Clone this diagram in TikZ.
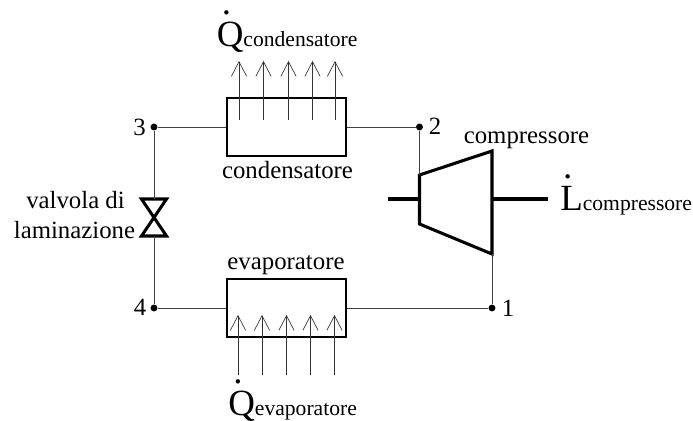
\documentclass[tikz,border=0pt]{standalone}
\usepackage{fontspec}
\usepackage{graphicx}
\setmainfont{Liberation Serif}
\usetikzlibrary{arrows.meta}
\newsavebox{\symbox}
\newcommand{\hidot}[1]{\leavevmode\sbox{\symbox}{#1}\rlap{\hbox to \wd\symbox{\hss\raisebox{0.84em}{.}\kern.2em\hss}}\usebox{\symbox}}
\newcommand{\bigsym}[2]{{\fontsize{27.7pt}{30pt}\selectfont\hidot{#1}}{\fontsize{16.2pt}{18pt}\selectfont #2}}
\tikzset{
  thinline/.style={line width=.75pt,draw=black!75},
  flow/.style={line width=.7pt,draw=black!80,-{Straight Barb[length=11pt,width=11.5pt,line width=.5pt]}},
  heavy/.style={line width=2.3pt,draw=black,line join=miter},
  shaft/.style={line width=3pt,draw=black},
  hx/.style={rectangle,draw=black,line width=2.2pt,minimum width=119*.75pt,minimum height=58*.75pt,inner sep=0pt},
  junction/.style={circle,fill=black,draw=none,minimum size=5.2pt,inner sep=0pt},
  lab/.style={anchor=base,inner sep=0pt,font=\fontsize{18.6pt}{20pt}\selectfont},
  symb/.style={anchor=base west,inner sep=0pt}
}
\begin{document}
\begin{tikzpicture}[x=.75pt,y=-.75pt]
\useasboundingbox (0,0) rectangle (693,421);
% junctions
\node[junction] (p3) at (154,127) {};
\node[junction] (p2) at (419.5,127) {};
\node[junction] (p4) at (154,308) {};
\node[junction] (p1) at (492,308) {};
% heat exchangers
\node[hx] (cond) at (286.5,127) {};
\node[hx] (evap) at (286.5,308) {};
% valve
\coordinate (vt) at (154,199);
\coordinate (vb) at (154,236);
\draw[heavy] (141.5,199) -- (166.5,199) -- (141.5,236) -- (166.5,236) -- cycle;
% compressor
\coordinate (ctl) at (419.5,175);
\coordinate (ctr) at (492,151);
\coordinate (cbr) at (492,254);
\coordinate (cbl) at (419.5,224);
\coordinate (sl) at (388,199);
\coordinate (slr) at (419.5,199);
\coordinate (srl) at (492,199);
\coordinate (sr) at (548,199);
\draw[heavy] (ctl) -- (ctr) -- (cbr) -- (cbl) -- cycle;
\draw[shaft] (sl) -- (slr);
\draw[shaft] (srl) -- (sr);
% circuit
\draw[thinline] (p3) -- (cond);
\draw[thinline] (cond) -- (p2);
\draw[thinline] (p2) -- (ctl);
\draw[thinline] (cbr) -- (p1);
\draw[thinline] (p1) -- (evap);
\draw[thinline] (evap) -- (p4);
\draw[thinline] (p4) -- (vb);
\draw[thinline] (vt) -- (p3);
% heat arrows
\foreach \n/\x in {a/239,b/263.5,c/288.5,d/312.5,e/335}{
  \coordinate (cs\n) at (\x,120);
  \coordinate (ce\n) at (\x,61);
  \draw[flow] (cs\n) -- (ce\n);
}
\foreach \n/\x in {a/238,b/262,c/286.5,d/310.5,e/334.5}{
  \coordinate (es\n) at (\x,375);
  \coordinate (ee\n) at (\x,315);
  \draw[flow] (es\n) -- (ee\n);
}
% labels
\node[lab] (l3) at (139.5,135) {3};
\node[lab] (l2) at (435,134) {2};
\node[lab] (l4) at (140,315) {4};
\node[lab] (l1) at (508,316) {1};
\node[lab] (lcond) at (287.5,178) {condensatore};
\node[lab] (levap) at (286,269) {evaporatore};
\node[lab] (lcomp) at (526.5,143) {compressore};
\node[lab] (lval1) at (75.5,208) {valvola di};
\node[lab] (lval2) at (74.5,238) {laminazione};
\node[symb] (qc) at (216.5,46) {\bigsym{Q}{condensatore}};
\node[symb] (qe) at (228,415) {\bigsym{Q}{evaporatore}};
\node[symb] (lc) at (560,210) {\bigsym{L}{compressore}};
\end{tikzpicture}
\end{document}
